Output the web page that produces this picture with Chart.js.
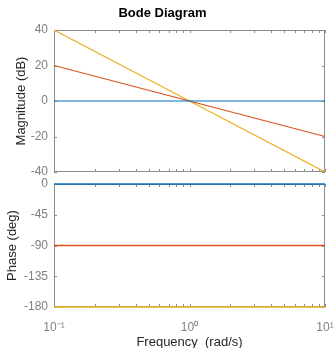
<!DOCTYPE html>
<html>
<head>
<meta charset="utf-8">
<script src="https://cdn.jsdelivr.net/npm/chart.js@4/dist/chart.umd.min.js"></script>
<style>
  body { margin: 0; background: #fff; width: 335px; height: 348px; position: relative; overflow: hidden; }
  canvas { position: absolute; left: 0; }
</style>
</head>
<body>
<canvas id="magChart" width="335" height="178" style="top:0"></canvas>
<canvas id="phaseChart" width="335" height="172" style="top:178px"></canvas>
<script>
// data
const freqs = [0.1, 1, 10];
const magBlue = [0, 0, 0];
const magOrange = [20, 0, -20];
const magYellow = [40, 0, -40];
const phaseBlue = [0, 0, 0];
const phaseOrange = [-90, -90, -90];
const phaseYellow = [-180, -180, -180];

const magTicks = [-40, -20, 0, 20, 40];
const phaseTicks = [-180, -135, -90, -45, 0];
const freqTicks = [0.1, 1, 10];
const freqLabels = ["10\u207B\u00B9", "10\u2070", "10\u00B9"];
const minorFreqs = [0.2, 0.3, 0.4, 0.5, 0.6, 0.7, 0.8, 0.9, 2, 3, 4, 5, 6, 7, 8, 9];

const colors = ["#0072BD", "#D95319", "#EDB120"];
const axisColor = "#8c8c8c";
const tickTextColor = "#808080";
const labelColor = "#262626";
const fontFamily = "'Liberation Sans', Arial, Helvetica, sans-serif";

// box with inward ticks on all four sides, drawn under the lines
const boxPlugin = {
  id: "box",
  beforeDatasetsDraw(chart, args, opts) {
    const { ctx, chartArea: a, scales } = chart;
    const len = 3;
    ctx.save();
    ctx.strokeStyle = axisColor;
    ctx.lineWidth = 1;
    ctx.strokeRect(a.left + 0.5, a.top + 0.5, a.right - a.left - 1, a.bottom - a.top - 1);
    ctx.beginPath();
    freqTicks.concat(minorFreqs).forEach((v) => {
      const x = Math.round(scales.x.getPixelForValue(v)) + 0.5;
      ctx.moveTo(x, a.bottom);
      ctx.lineTo(x, a.bottom - len);
      ctx.moveTo(x, a.top);
      ctx.lineTo(x, a.top + len);
    });
    (opts.yTicks || []).forEach((v) => {
      const y = Math.round(scales.y.getPixelForValue(v)) + 0.5;
      ctx.moveTo(a.left, y);
      ctx.lineTo(a.left + len, y);
      ctx.moveTo(a.right, y);
      ctx.lineTo(a.right - len, y);
    });
    ctx.stroke();
    ctx.restore();
  },
};

const makeDataset = (width) => (data, i) => ({
  data: freqs.map((f, k) => ({ x: f, y: data[k] })),
  borderColor: colors[i],
  backgroundColor: colors[i],
  borderWidth: width,
  pointRadius: 0,
  tension: 0,
  clip: { left: 0, right: 0, top: 2, bottom: 2 },
});

const xScale = (showLabels) => ({
  type: "logarithmic",
  min: 0.1,
  max: 10,
  display: showLabels,
  afterBuildTicks: (s) => {
    s.ticks = freqTicks.map((v) => ({ value: v }));
  },
  afterFit: (s) => {
    if (showLabels) s.height = 43;
    s.paddingLeft = 0;
    s.paddingRight = 0;
  },
  grid: { display: false, drawTicks: false },
  border: { display: false },
  ticks: {
    color: tickTextColor,
    font: { family: fontFamily, size: 12 },
    maxRotation: 0,
    autoSkip: false,
    padding: 13,
    callback: (v) => freqLabels[freqTicks.indexOf(v)] ?? "",
  },
  title: {
    display: true,
    text: "Frequency  (rad/s)",
    color: labelColor,
    font: { family: fontFamily, size: 13 },
    padding: { top: 0, bottom: 0 },
  },
});

const yScale = (min, max, step, label, titlePad) => ({
  min,
  max,
  afterFit: (s) => {
    s.width = 54;
    s.paddingTop = 0;
    s.paddingBottom = 0;
  },
  grid: { display: false, drawTicks: false },
  border: { display: false },
  ticks: {
    stepSize: step,
    color: tickTextColor,
    font: { family: fontFamily, size: 12 },
    padding: 6,
  },
  title: {
    display: true,
    text: label,
    color: labelColor,
    font: { family: fontFamily, size: 13 },
    padding: { top: titlePad, bottom: 0 },
  },
});

new Chart(document.getElementById("magChart"), {
  type: "line",
  data: { datasets: [magBlue, magOrange, magYellow].map(makeDataset(1.2)) },
  options: {
    responsive: false,
    animation: false,
    layout: { padding: { left: 0, right: 10, top: 0, bottom: 6 } },
    plugins: {
      legend: { display: false },
      tooltip: { enabled: false },
      box: { yTicks: magTicks },
      title: {
        display: true,
        text: "Bode Diagram",
        color: "#000",
        font: { family: fontFamily, size: 13, weight: "bold" },
        padding: { top: 6, bottom: 8.4 },
      },
    },
    scales: {
      x: xScale(false),
      y: yScale(-40, 40, 20, "Magnitude (dB)", 14),
    },
  },
  plugins: [boxPlugin],
});

new Chart(document.getElementById("phaseChart"), {
  type: "line",
  data: { datasets: [phaseBlue, phaseOrange, phaseYellow].map(makeDataset(1.6)) },
  options: {
    responsive: false,
    animation: false,
    layout: { padding: { left: 0, right: 10, top: 6, bottom: 0 } },
    plugins: {
      legend: { display: false },
      tooltip: { enabled: false },
      box: { yTicks: phaseTicks },
    },
    scales: {
      x: xScale(true),
      y: yScale(-180, 0, 45, "Phase (deg)", 5),
    },
  },
  plugins: [boxPlugin],
});
</script>
</body>
</html>
